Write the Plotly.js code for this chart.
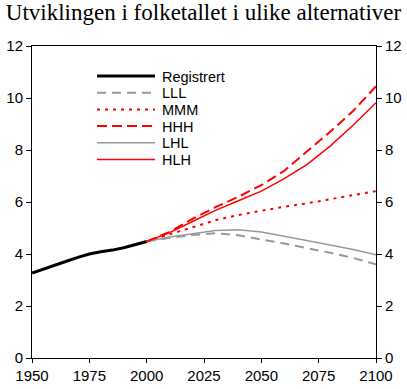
<!DOCTYPE html>
<html>
<head>
<meta charset="utf-8">
<script src="https://cdn.plot.ly/plotly-3.0.1.min.js"></script>
<style>html,body{margin:0;padding:0;background:#fff;}#chart{width:407px;height:389px;}</style>
</head>
<body>
<div id="chart"></div>
<script>
// Registered population (millions)
const regYears = [1950, 1955, 1960, 1965, 1970, 1975, 1980, 1985, 1990, 1995, 2000];
const regValues = [3.27, 3.43, 3.58, 3.72, 3.87, 4.00, 4.09, 4.15, 4.24, 4.35, 4.48];

// Projection alternatives (millions)
const projYears = [2000, 2010, 2020, 2030, 2040, 2050, 2060, 2070, 2080, 2090, 2100];
const lll = [4.48, 4.62, 4.73, 4.80, 4.72, 4.57, 4.40, 4.22, 4.05, 3.85, 3.60];
const mmm = [4.48, 4.75, 5.05, 5.30, 5.50, 5.67, 5.82, 5.95, 6.10, 6.27, 6.42];
const hhh = [4.48, 4.85, 5.35, 5.80, 6.20, 6.65, 7.20, 7.95, 8.70, 9.50, 10.45];
const lhl = [4.48, 4.65, 4.78, 4.90, 4.93, 4.85, 4.68, 4.52, 4.35, 4.17, 3.97];
const hlh = [4.48, 4.82, 5.25, 5.68, 6.05, 6.42, 6.90, 7.45, 8.15, 8.95, 9.82];

const seriesNames = ['Registrert', 'LLL', 'MMM', 'HHH', 'LHL', 'HLH'];
const xTicks = [1950, 1975, 2000, 2025, 2050, 2075, 2100];
const yTicks = [0, 2, 4, 6, 8, 10, 12];

// styles
const lineStyles = [
  {color: '#000000', width: 3},
  {color: '#999999', width: 2, dash: '9px,6px'},
  {color: '#ff0000', width: 2, dash: '3px,5px'},
  {color: '#ff0000', width: 2, dash: '10px,5px'},
  {color: '#999999', width: 1.5},
  {color: '#ff0000', width: 1.5}
];
const seriesX = [regYears, projYears, projYears, projYears, projYears, projYears];
const seriesY = [regValues, lll, mmm, hhh, lhl, hlh];

const traces = seriesNames.map((n, i) => ({
  x: seriesX[i], y: seriesY[i], name: n, mode: 'lines', line: lineStyles[i], showlegend: false
}));
traces.push({x: [1950, 2100], y: [0, 12], yaxis: 'y2', mode: 'none', showlegend: false, hoverinfo: 'skip'});

// plot area geometry (px)
const W = 407, H = 389, ML = 32, MR = 31, MT = 46, MB = 31;
const PW = W - ML - MR, PH = H - MT - MB;
const px2x = p => (p - ML) / PW;
const px2y = p => (H - MB - p) / PH;

// manual legend (compact spacing like the original)
const legX0 = 97, legX1 = 155, legTextX = 160, legY0 = 76, legDy = 16.7;
const shapes = [];
const annotations = [];
seriesNames.forEach((n, i) => {
  const py = legY0 + i * legDy;
  shapes.push({type: 'line', xref: 'paper', yref: 'paper',
    x0: px2x(legX0), x1: px2x(legX1), y0: px2y(py), y1: px2y(py), line: lineStyles[i]});
  annotations.push({xref: 'paper', yref: 'paper', x: px2x(legTextX), y: px2y(py + 0.5),
    xanchor: 'left', yanchor: 'middle', showarrow: false, text: n,
    font: {family: 'Liberation Sans, Arial, sans-serif', size: 14.5, color: '#000'}});
});

const tickFont = {family: 'Liberation Sans, Arial, sans-serif', size: 15, color: '#000'};

const layout = {
  width: W, height: H,
  margin: {l: ML, r: MR, t: MT, b: MB, pad: 0},
  paper_bgcolor: '#fff', plot_bgcolor: '#fff',
  title: {text: 'Utviklingen i folketallet i ulike alternativer',
          font: {family: 'Liberation Serif, Times New Roman, serif', size: 23, color: '#000'},
          x: 0.5, xanchor: 'center', y: 0.99, yanchor: 'top'},
  showlegend: false,
  shapes: shapes,
  annotations: annotations,
  xaxis: {range: [1950, 2100], tickvals: xTicks, ticks: 'outside', ticklen: 4, tickcolor: '#000',
          showline: true, linecolor: '#000', linewidth: 1, mirror: true, showgrid: false, zeroline: false,
          tickfont: tickFont},
  yaxis: {range: [0, 12], tickvals: yTicks, ticks: 'outside', ticklen: 5, tickcolor: '#000',
          showline: true, linecolor: '#000', linewidth: 1, mirror: true, showgrid: false, zeroline: false,
          tickfont: tickFont},
  yaxis2: {range: [0, 12], tickvals: yTicks, overlaying: 'y', side: 'right', ticks: 'outside', ticklen: 5,
           tickcolor: '#000', showline: false, showgrid: false, zeroline: false, tickfont: tickFont}
};

Plotly.newPlot('chart', traces, layout, {displayModeBar: false, staticPlot: true});
</script>
</body>
</html>
